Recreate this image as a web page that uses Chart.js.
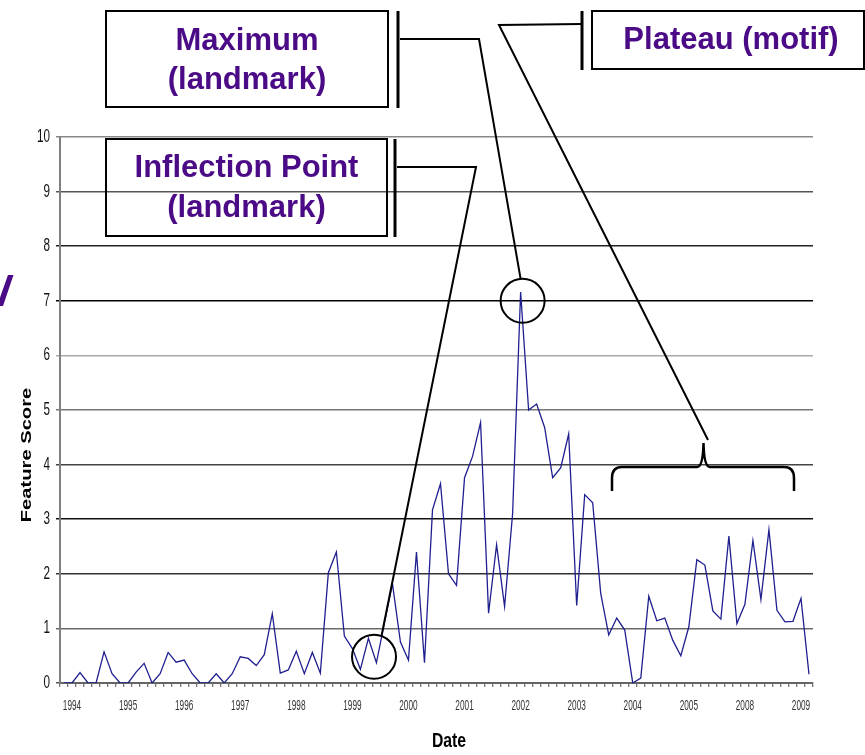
<!DOCTYPE html>
<html>
<head>
<meta charset="utf-8">
<script src="https://cdn.jsdelivr.net/npm/chart.js@4/dist/chart.umd.min.js"></script>
<style>
  html, body { margin: 0; padding: 0; background: #ffffff; }
  #wrap { width: 865px; height: 755px; position: relative; }
</style>
</head>
<body>
<div id="wrap"><canvas id="c" width="865" height="755"></canvas></div>
<script>
// ---------------- DATA ----------------
const featureScore = [
  0, 0, 0.19, 0, 0, 0.57, 0.17, 0, 0, 0.2,
  0.36, 0, 0.17, 0.56, 0.38, 0.42, 0.17, 0, 0, 0.17,
  0, 0.17, 0.48, 0.45, 0.32, 0.52, 1.27, 0.18, 0.24, 0.58,
  0.17, 0.56, 0.18, 2.02, 2.4, 0.86, 0.63, 0.25, 0.82, 0.37,
  1.1, 1.82, 0.75, 0.42, 2.4, 0.37, 3.17, 3.65, 2.0, 1.79,
  3.76, 4.15, 4.77, 1.28, 2.53, 1.4, 3.1, 7.16, 5.0, 5.11,
  4.68, 3.76, 3.94, 4.56, 1.42, 3.45, 3.3, 1.64, 0.88, 1.19,
  0.97, 0, 0.09, 1.59, 1.14, 1.19, 0.78, 0.5, 1.03, 2.26,
  2.16, 1.32, 1.17, 2.69, 1.09, 1.44, 2.61, 1.53, 2.81, 1.33,
  1.12, 1.13, 1.55, 0.16
];
const yearLabels = ['1994','1995','1996','1997','1998','1999','2000','2001','2002','2003','2004','2005','2008','2009'];
const yTicks = [0, 1, 2, 3, 4, 5, 6, 7, 8, 9, 10];
const labelStart = 1;
const labelStep = 7;
const categories = featureScore.map((_, i) => 'P' + (i + 1));

// Landmarks anchored on the data (category index, value)
const maximumMark = { index: 57, value: 7.0 };
const inflectionMark = { index: 38.7, value: 0.48 };

// ---------------- STYLE ----------------
const purple = '#4b0a86';
const gridColors = ['#555555','#6a6a6a','#333333','#111111','#444444','#777777','#aaaaaa','#000000','#222222','#555555','#888888'];
const squeeze = { x: 0.55, y: 0.65 };

function squeezedDraw(scale, fn) {
  const ctx = scale.ctx;
  const f = squeeze[scale.id] || 1;
  const proto = CanvasRenderingContext2D.prototype;
  ctx.fillText = function (t, x, y) {
    const w = proto.measureText.call(this, t).width * f;
    if (w > 0) proto.fillText.call(this, t, x, y, w);
  };
  try { fn(); } finally { delete ctx.fillText; }
}

class SqueezeCategory extends Chart.CategoryScale {
  drawLabels(area) { squeezedDraw(this, () => super.drawLabels(area)); }
}
SqueezeCategory.id = 'squeezeCategory';
SqueezeCategory.defaults = Chart.CategoryScale.defaults;

class SqueezeLinear extends Chart.LinearScale {
  drawLabels(area) { squeezedDraw(this, () => super.drawLabels(area)); }
}
SqueezeLinear.id = 'squeezeLinear';
SqueezeLinear.defaults = Chart.LinearScale.defaults;

Chart.register(SqueezeCategory, SqueezeLinear);

// ---------------- ANNOTATIONS ----------------
const annotations = {
  id: 'annotations',
  afterDraw(chart) {
    const ctx = chart.ctx;
    const xs = chart.scales.x, ys = chart.scales.y;
    ctx.save();

    // axis titles
    ctx.fillStyle = '#000';
    ctx.textAlign = 'center';
    ctx.textBaseline = 'middle';
    ctx.font = 'bold 14px "Liberation Sans", Arial, sans-serif';
    ctx.save();
    ctx.translate(27, 455);
    ctx.rotate(-Math.PI / 2);
    ctx.scale(1.44, 1);
    ctx.fillText('Feature Score', 0, 0);
    ctx.restore();

    ctx.font = 'bold 21px "Liberation Sans", Arial, sans-serif';
    const dw = ctx.measureText('Date').width * 0.75;
    ctx.fillText('Date', 449, 741, dw);

    // purple fragment at left edge
    ctx.fillStyle = purple;
    ctx.beginPath();
    ctx.moveTo(8, 275); ctx.lineTo(13.5, 275); ctx.lineTo(3, 306); ctx.lineTo(-3, 306);
    ctx.closePath(); ctx.fill();

    // boxes
    ctx.strokeStyle = '#000';
    ctx.lineWidth = 2;
    ctx.strokeRect(106, 11, 282, 96);
    ctx.strokeRect(106, 139, 281, 97);
    ctx.strokeRect(592, 11, 272, 58);

    // thick bars next to boxes
    ctx.lineWidth = 3;
    ctx.beginPath();
    ctx.moveTo(398, 11); ctx.lineTo(398, 108);
    ctx.moveTo(395, 139); ctx.lineTo(395, 237);
    ctx.moveTo(582, 11); ctx.lineTo(582, 70);
    ctx.stroke();

    // box texts
    ctx.fillStyle = purple;
    ctx.font = 'bold 31px "Liberation Sans", Arial, sans-serif';
    ctx.textAlign = 'center';
    ctx.textBaseline = 'middle';
    ctx.fillText('Maximum', 247, 41);
    ctx.fillText('(landmark)', 247, 80);
    ctx.fillText('Inflection Point', 246.5, 168);
    ctx.fillText('(landmark)', 246.5, 208);
    ctx.fillText('Plateau (motif)', 731, 40);

    // circles on landmarks
    const r = 22;
    const c1x = xs.getPixelForValue(maximumMark.index) + 2, c1y = ys.getPixelForValue(maximumMark.value);
    const c2x = xs.getPixelForValue(inflectionMark.index), c2y = ys.getPixelForValue(inflectionMark.value);
    ctx.strokeStyle = '#000';
    ctx.lineWidth = 2;
    ctx.beginPath(); ctx.arc(c1x, c1y, r, 0, Math.PI * 2); ctx.stroke();
    ctx.beginPath(); ctx.arc(c2x, c2y, r, 0, Math.PI * 2); ctx.stroke();

    // callout lines
    ctx.lineWidth = 2;
    ctx.beginPath();
    ctx.moveTo(400, 39); ctx.lineTo(479, 39); ctx.lineTo(c1x - 2, c1y - r);
    ctx.stroke();
    ctx.beginPath();
    ctx.moveTo(397, 167); ctx.lineTo(476, 167); ctx.lineTo(c2x + 7.5, c2y - r + 1);
    ctx.stroke();
    ctx.beginPath();
    ctx.moveTo(581, 24); ctx.lineTo(499, 25); ctx.lineTo(708, 440);
    ctx.stroke();

    // brace over the plateau
    ctx.lineWidth = 2.5;
    ctx.beginPath();
    ctx.moveTo(612, 491);
    ctx.lineTo(612, 478);
    ctx.quadraticCurveTo(612, 467, 622, 467);
    ctx.lineTo(697, 467);
    ctx.quadraticCurveTo(703, 467, 703.5, 443);
    ctx.quadraticCurveTo(704, 467, 710, 467);
    ctx.lineTo(784, 467);
    ctx.quadraticCurveTo(794, 467, 794, 478);
    ctx.lineTo(794, 491);
    ctx.stroke();

    ctx.restore();
  }
};

// ---------------- CHART ----------------
new Chart(document.getElementById('c'), {
  type: 'line',
  data: {
    labels: categories,
    datasets: [{
      label: 'Feature Score',
      data: featureScore,
      borderColor: '#1f1f8f',
      borderWidth: 1.3,
      pointRadius: 0,
      tension: 0,
      fill: false
    }]
  },
  options: {
    responsive: false,
    animation: false,
    devicePixelRatio: 1,
    layout: { padding: { left: 0, right: 52, top: 137, bottom: 0 } },
    plugins: { legend: { display: false }, tooltip: { enabled: false }, title: { display: false } },
    scales: {
      x: {
        type: 'squeezeCategory',
        offset: true,
        afterFit(s) { s.height = 72; },
        border: { display: true, color: '#666666', width: 2 },
        grid: { drawOnChartArea: false, drawTicks: true, tickLength: 4, color: '#777777', lineWidth: 1.3, offset: true },
        ticks: {
          autoSkip: false, maxRotation: 0, minRotation: 0, padding: 10,
          color: '#333333',
          font: { family: '"Liberation Sans", Arial, sans-serif', size: 15 },
          callback: (v, i) => ((i - labelStart) % labelStep === 0 && i >= labelStart) ? yearLabels[(i - labelStart) / labelStep] : ''
        }
      },
      y: {
        type: 'squeezeLinear',
        min: 0, max: 10,
        afterFit(s) { s.width = 60; },
        afterBuildTicks(s) { s.ticks = yTicks.map(v => ({ value: v })); },
        border: { display: true, color: '#808080', width: 2 },
        grid: {
          drawTicks: true, tickLength: 4, lineWidth: 1.5,
          color: (c) => gridColors[c.index] || '#777777'
        },
        ticks: {
          padding: 6,
          color: '#111111',
          font: { family: '"Liberation Sans", Arial, sans-serif', size: 18 },
          callback: (v) => String(v)
        }
      }
    }
  },
  plugins: [annotations]
});
</script>
</body>
</html>
